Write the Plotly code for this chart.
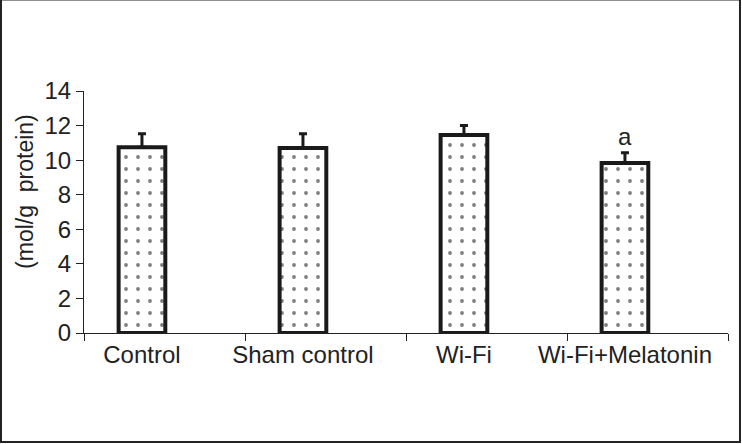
import plotly.graph_objects as go

groups = ['Control', 'Sham control', 'Wi-Fi', 'Wi-Fi+Melatonin']
values = [10.75, 10.7, 11.45, 9.83]
errors = [0.78, 0.82, 0.55, 0.6]
marks = ['', '', '', 'a']

# bars sit a bit left of the middle of each category slot
pos = [i + 0.36 for i in range(len(groups))]
slot_edges = list(range(len(groups) + 1))

fig = go.Figure()
fig.add_trace(go.Bar(
    x=pos, y=values, width=0.29,
    marker=dict(color='white', line=dict(color='#1a1a1a', width=4),
                pattern=dict(shape='.', fgcolor='black', bgcolor='white',
                             size=12, solidity=0.08)),
    error_y=dict(type='data', symmetric=False, array=errors,
                 arrayminus=[0] * len(errors), color='#1a1a1a',
                 thickness=3, width=4),
    showlegend=False, hoverinfo='skip'))

for p, v, e, m in zip(pos, values, errors, marks):
    if m:
        fig.add_annotation(x=p, y=v + e + 0.05, text=m, showarrow=False,
                           yanchor='bottom', font=dict(size=24, color='#222'))

fig.add_annotation(text='(mol/g  protein)', xref='paper', yref='paper',
                   x=-0.0916, y=0.583, textangle=-90, showarrow=False,
                   xanchor='center', yanchor='middle',
                   font=dict(size=23, color='#222'))

# frame round the whole picture
fig.add_shape(type='rect', xref='paper', yref='paper',
              x0=-0.1289, x1=1.0186, y0=-0.4504, y1=1.3776,
              line=dict(color='#222', width=2))

fig.update_xaxes(range=[0, 4], tickmode='array', tickvals=pos, ticktext=groups,
                 ticks='', showline=True, linecolor='#222', linewidth=1,
                 showgrid=False, zeroline=False,
                 tickfont=dict(size=24, color='#222', family='Liberation Sans, Arial'),
                 minor=dict(tickmode='array', tickvals=slot_edges, ticks='outside',
                            ticklen=7, tickcolor='#222', tickwidth=1, showgrid=False))
fig.update_yaxes(range=[0, 14], dtick=2, ticks='outside', ticklen=7,
                 tickcolor='#222', showline=True, linecolor='#222', linewidth=1,
                 showgrid=False, zeroline=False,
                 tickfont=dict(size=24, color='#222', family='Liberation Sans, Arial'))
fig.update_layout(width=742, height=444, plot_bgcolor='white', paper_bgcolor='white',
                  margin=dict(l=84, r=14, t=91, b=111),
                  font=dict(family='Liberation Sans, Arial'))
fig.write_html("out.html", config={'displayModeBar': False},
               post_script="document.body.style.margin='0';")
